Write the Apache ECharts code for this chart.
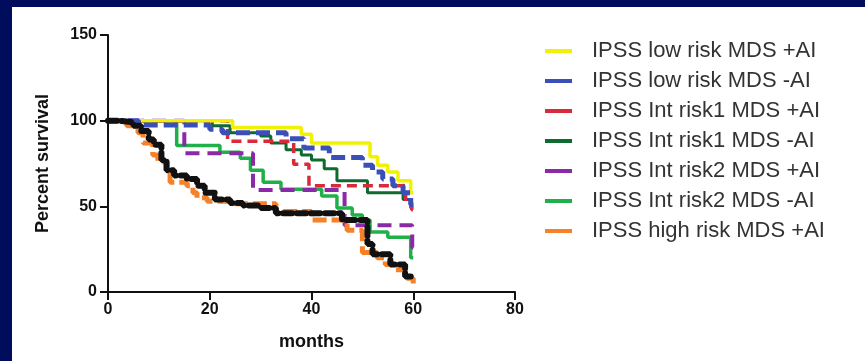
<!DOCTYPE html>
<html>
<head>
<meta charset="utf-8">
<script src="https://cdn.jsdelivr.net/npm/echarts@6/dist/echarts.min.js"></script>
<style>
  html, body { margin: 0; padding: 0; background: #000c5c; width: 865px; height: 361px; overflow: hidden; }
  #chart { position: absolute; left: 12px; top: 7px; width: 853px; height: 354px; background: #fff; }
</style>
</head>
<body>
<div id="chart"></div>
<script>
// Kaplan-Meier curves: months where each step starts, percent after it
const seriesNames = [
  'IPSS low risk MDS +AI',
  'IPSS low risk MDS -AI',
  'IPSS Int risk1 MDS +AI',
  'IPSS Int risk1 MDS -AI',
  'IPSS Int risk2 MDS +AI',
  'IPSS Int risk2 MDS -AI',
  'IPSS high risk MDS +AI'
]
const lowPlusMonths = [0, 24.5, 38, 40, 51.5, 53, 55, 57, 59.5, 60]
const lowPlusPct = [100, 96, 92, 87, 79, 74, 70, 65, 58, 58]
const lowMinusMonths = [0, 6, 20, 22.5, 35, 38.5, 43.5, 50, 52, 54, 56, 58, 59.5, 60]
const lowMinusPct = [100, 97.5, 95, 93, 89.5, 84, 78.5, 74, 70, 66, 62, 58, 51, 51]
const int1PlusMonths = [0, 23.5, 36.5, 39.5, 58.5, 59.7, 60]
const int1PlusPct = [100, 88, 74.5, 62, 52, 48, 48]
const int1MinusMonths = [0, 20.5, 24, 30, 32, 35, 38, 40, 42.5, 45, 51, 58, 59.5, 60]
const int1MinusPct = [100, 97, 93, 91, 87, 83, 80, 77, 72, 65, 58, 54, 49, 49]
const int2PlusMonths = [0, 15, 28.5, 46.5, 59.8, 60]
const int2PlusPct = [100, 81, 59.5, 39, 26, 26]
const int2MinusMonths = [0, 13.5, 22, 26, 28, 30.5, 34, 42, 45, 48, 50, 51.5, 55, 59.5, 60]
const int2MinusPct = [100, 85.5, 81.5, 78, 71, 64, 60, 56, 49, 45, 42, 35, 32, 20, 20]
const highPlusMonths = [0, 3.7, 5.9, 6.9, 8.8, 9.8, 11.6, 12.2, 15.5, 16.7, 17.5, 19.5, 24, 33, 40, 47, 50, 52.9, 54.5, 56.4, 58.4, 60]
const highPlusPct = [100, 97, 93, 87, 80, 76, 70, 64, 62, 58, 55, 53, 51.5, 47, 42, 36, 23, 20, 16, 13, 8, 5]
// dense censor marks (black) along the high-risk curve
const censorMonths = [0, 2, 5, 6.5, 8, 9, 10.5, 11.5, 13, 15.5, 17.5, 19, 21, 24, 26.5, 30, 33, 46, 51, 52, 55.5, 58.4, 60]
const censorPct = [100, 99, 97, 94, 89, 86, 77, 71, 68, 66, 62, 58, 54, 52, 50.5, 49, 46, 42, 28, 22, 16, 9, 8]

const xTicks = [0, 20, 40, 60, 80]
const yTicks = [0, 50, 100, 150]

const pairs = (xs, ys) => xs.map((x, i) => [x, ys[i]])

const curve = (name, xs, ys, color, width, dash) => ({
  name,
  type: 'line',
  step: 'end',
  showSymbol: false,
  symbol: 'none',
  silent: true,
  animation: false,
  lineStyle: { color, width, type: dash || 'solid' },
  itemStyle: { color },
  data: pairs(xs, ys)
})

const chart = echarts.init(document.getElementById('chart'))

const option = {
  textStyle: { fontFamily: 'Liberation Sans, Arial, sans-serif' },
  grid: { left: 96, right: 350, top: 28, bottom: 69 },
  legend: {
    orient: 'vertical',
    left: 528,
    top: 28,
    itemGap: 8,
    itemWidth: 27,
    itemHeight: 4,
    icon: 'rect',
    data: seriesNames,
    textStyle: { fontSize: 22, lineHeight: 22, color: '#333', padding: [0, 0, 0, 15] },
    selectedMode: false
  },
  xAxis: {
    type: 'value',
    min: xTicks[0],
    max: xTicks[xTicks.length - 1],
    interval: 20,
    name: 'months',
    nameLocation: 'middle',
    nameGap: 41,
    nameTextStyle: { fontSize: 18, fontWeight: 'bold', color: '#111' },
    axisLine: { show: true, lineStyle: { color: '#111', width: 2 } },
    axisTick: { show: true, length: 8, lineStyle: { color: '#111', width: 2 } },
    axisLabel: { fontSize: 16, fontWeight: 'bold', color: '#111', margin: 10 },
    splitLine: { show: false }
  },
  yAxis: {
    type: 'value',
    min: yTicks[0],
    max: yTicks[yTicks.length - 1],
    interval: 50,
    name: 'Percent survival',
    nameLocation: 'middle',
    nameGap: 56,
    nameTextStyle: { fontSize: 18, fontWeight: 'bold', color: '#111' },
    axisLine: { show: true, lineStyle: { color: '#111', width: 2 } },
    axisTick: { show: true, length: 8, lineStyle: { color: '#111', width: 2 } },
    axisLabel: { fontSize: 16, fontWeight: 'bold', color: '#111', margin: 11 },
    splitLine: { show: false }
  },
  series: [
    curve(seriesNames[5], int2MinusMonths, int2MinusPct, '#1fb04a', 3.5),
    curve(seriesNames[4], int2PlusMonths, int2PlusPct, '#8b2aa6', 4, [14, 8]),
    curve(seriesNames[6], highPlusMonths, highPlusPct, '#f5822a', 5, [14, 5]),
    curve(seriesNames[3], int1MinusMonths, int1MinusPct, '#0f6a30', 3),
    curve(seriesNames[2], int1PlusMonths, int1PlusPct, '#d92a3a', 3.5, [10, 6]),
    curve(seriesNames[0], lowPlusMonths, lowPlusPct, '#f2f200', 3.5),
    curve(seriesNames[1], lowMinusMonths, lowMinusPct, '#3a50b8', 5, [14, 6]),
    Object.assign(curve('censored', censorMonths, censorPct, '#111', 6, [9, 5]), {
      lineStyle: { color: '#111', width: 6, type: [9, 5], cap: 'round' }
    })
  ]
}

chart.setOption(option)
</script>
</body>
</html>
